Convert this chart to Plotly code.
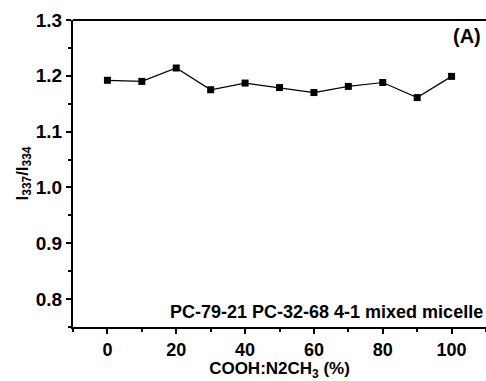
import plotly.graph_objects as go

x_vals = [0, 10, 20, 30, 40, 50, 60, 70, 80, 90, 100]
y_vals = [1.192, 1.190, 1.214, 1.175, 1.187, 1.179, 1.170, 1.181, 1.188, 1.161, 1.199]
x_ticks = [0, 20, 40, 60, 80, 100]
y_ticks = [0.8, 0.9, 1.0, 1.1, 1.2, 1.3]

FONT = "Liberation Sans"

fig = go.Figure()
fig.add_trace(go.Scatter(
    x=x_vals, y=y_vals, mode="lines+markers",
    line=dict(color="black", width=1.2),
    marker=dict(symbol="square", size=7, color="black"),
    showlegend=False,
))

axis_common = dict(
    showline=True, linecolor="black", linewidth=2,
    ticks="outside", ticklen=5, tickwidth=1.5, tickcolor="black",
    showgrid=False, zeroline=False,
)

fig.update_xaxes(
    range=[-10, 110], tickvals=x_ticks, ticktext=[str(v) for v in x_ticks],
    minor=dict(ticks="outside", ticklen=3, tickwidth=1.5, tickcolor="black", dtick=10, tick0=0),
    tickfont=dict(family=FONT, size=18, color="black", weight="bold"),
    title=dict(text="<b>COOH:N2CH<sub>3</sub> (%)</b>", font=dict(family=FONT, size=17, color="black"), standoff=0),
    ticklabelstandoff=0,
    **axis_common,
)
fig.update_yaxes(
    range=[0.75, 1.3], tickvals=y_ticks, ticktext=[f"{v:.1f}" for v in y_ticks],
    minor=dict(ticks="outside", ticklen=3, tickwidth=1.5, tickcolor="black", dtick=0.05, tick0=0.75),
    tickfont=dict(family=FONT, size=19, color="black", weight="bold"),
    title=dict(text="<b>I<sub>337</sub>/I<sub>334</sub></b>", font=dict(family=FONT, size=17, color="black"), standoff=3),
    ticklabelstandoff=0,
    **axis_common,
)

# top border line
fig.add_shape(type="line", xref="paper", yref="paper", x0=0, x1=1, y0=1, y1=1,
              line=dict(color="black", width=2))

fig.add_annotation(text="<b>(A)</b>", xref="paper", yref="paper", x=0.992, y=0.99,
                   xanchor="right", yanchor="top", showarrow=False,
                   font=dict(family=FONT, size=20, color="black"))
fig.add_annotation(text="<b>PC-79-21 PC-32-68 4-1 mixed micelle</b>", xref="paper", yref="paper",
                   x=0.997, y=0.01, xanchor="right", yanchor="bottom", showarrow=False,
                   font=dict(family=FONT, size=18, color="black"))

fig.update_layout(
    width=486, height=381,
    margin=dict(l=73, r=0, t=20, b=54),
    paper_bgcolor="white", plot_bgcolor="white",
)

fig.write_html("out.html")
